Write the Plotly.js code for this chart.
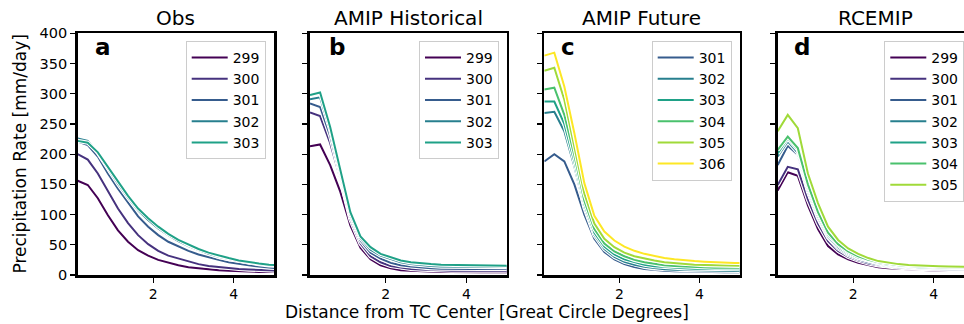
<!DOCTYPE html>
<html><head><meta charset="utf-8">
<script src="https://cdn.plot.ly/plotly-3.0.1.min.js"></script>
<style>html,body{margin:0;padding:0;overflow:hidden;background:#fff}#chart{width:1000px;height:324px}</style>
</head><body><div id="chart"></div>
<script>
// Distance from TC center (great circle degrees)
const distance = [0.125,0.375,0.625,0.875,1.125,1.375,1.625,1.875,2.125,2.375,2.625,2.875,3.125,3.375,3.625,3.875,4.125,4.375,4.625,4.875,5.125];

// SST bins and viridis colours (299..306)
const sstBins = [299,300,301,302,303,304,305,306];
const sstColors = ['#440154','#46327e','#365c8d','#277f8e','#1fa187','#4ac16d','#a0da39','#fde725'];

// Panel titles and letters
const panelTitles = ['Obs','AMIP Historical','AMIP Future','RCEMIP'];
const panelLetters = ['a','b','c','d'];
const yTicks = [0,50,100,150,200,250,300,350,400];
const xTicks = [2,4];

// (a) Obs
const obsSST = [299,300,301,302,303];
const obs299 = [156,149,127,99,74,55,41,32,25,20,16,13,11,9,8,7,6,6,5,5,5];
const obs300 = [200,191,168,138,110,86,66,51,40,32,27,22,18,15,13,11,10,9,8,8,7];
const obs301 = [221,215,196,168,143,119,97,80,66,55,47,40,34,29,25,21,18,16,14,12,11];
const obs302 = [226,222,202,176,151,128,107,91,77,66,56,48,41,35,30,26,23,20,18,16,15];
const obs303 = [222,219,203,179,154,131,110,94,80,68,58,50,43,37,32,28,24,21,19,17,16];

// (b) AMIP Historical
const histSST = [299,300,301,302,303];
const hist299 = [213,216,182,138,82,45,26,16,11,8,7,6,5.5,5,5,4.5,4.5,4.5,4.5,4.5,4.5];
const hist300 = [269,263,218,160,92,52,31,21,15,12,10,9,8,7.5,7,7,7,7,7,7,7];
const hist301 = [284,278,230,166,97,57,37,27,20,16,14,12,11,10.5,10,10,10,10,10,10,10];
const hist302 = [291,294,240,171,100,61,42,32,26,21,18,16,15,14,14,13.5,13.5,13,13,13,13];
const hist303 = [298,302,245,176,104,64,46,35,29,24,21,19,18,17,16.5,16,15.5,15,15,15,15];

// (c) AMIP Future
const futSST = [301,302,303,304,305,306];
const fut301 = [188,200,188,150,100,60,38,26,18,13,10,8,7,6,5.5,5,5,4.5,4.5,4.5,4.5];
const fut302 = [268,270,238,180,112,66,43,30,22,17,13.5,11,9.5,8.5,8,7.5,7,7,6.5,6.5,6.5];
const fut303 = [287,287,250,188,117,70,47,34,26,21,17,14.5,13,12,11,10.5,10,10,9.5,9.5,9.5];
const fut304 = [307,310,265,198,123,76,52,39,31,25,21,18,16,15,14,13,12.5,12,12,12,12];
const fut305 = [338,343,290,215,135,85,60,46,37,31,27,24,21,19.5,18,17,16.5,16,15.5,15,15];
const fut306 = [363,368,312,235,152,98,72,57,47,40,35,31,28,26,24,23,22,21,21,20,20];

// (d) RCEMIP
const rceSST = [299,300,301,302,303,304,305];
const rce299 = [140,170,164,115,76,48,34,26,20,16,13,11,10,9,8.5,8,7.5,7,7,6.5,6.5];
const rce300 = [149,179,175,125,85,56,40,30,24,19,16,13.5,12,11,10,9.5,9,8.5,8,8,8];
const rce301 = [182,214,199,138,94,62,44,33,26,21,17.5,15,13,12,11,10.5,10,9.5,9,9,9];
const rce302 = [196,221,202,142,97,64,46,35,28,23,19,16,14,13,12,11.5,11,10.5,10,10,10];
const rce303 = [201,226,207,146,101,67,49,37,29,24,20,17,15,14,13,12.5,12,11.5,11,11,11];
const rce304 = [207,229,210,150,104,70,51,39,31,25,21,18,16,15,14,13.5,13,12.5,12,12,12];
const rce305 = [238,265,243,168,119,80,58,44,35,28,23,20,18,16.5,15.5,15,14.5,14,14,13.5,13.5];

const panels = [
  {sst: obsSST, series: [obs299,obs300,obs301,obs302,obs303]},
  {sst: histSST, series: [hist299,hist300,hist301,hist302,hist303]},
  {sst: futSST, series: [fut301,fut302,fut303,fut304,fut305,fut306]},
  {sst: rceSST, series: [rce299,rce300,rce301,rce302,rce303,rce304,rce305]}
];

const W = 1000, H = 324;
const xDomPx = [[77.7,274],[310,506.7],[544.3,739.5],[777.7,974]];
const yDom = [(H-275)/H, (H-33.3)/H];
const legendLeftPx = [185.7, 419, 651.7, 884.3];
const letterLeftPx = [93, 327, 559, 792];
const FONT = 'DejaVu Sans, sans-serif';

const traces = [];
const layout = {
  width: W, height: H,
  margin: {l:0, r:0, t:0, b:0},
  paper_bgcolor: '#fff', plot_bgcolor: '#fff',
  font: {family: FONT, color: '#000'},
  showlegend: true,
  annotations: []
};

panels.forEach((p, i) => {
  const n = i + 1;
  const xa = n === 1 ? 'x' : 'x' + n;
  const ya = n === 1 ? 'y' : 'y' + n;
  const lg = n === 1 ? 'legend' : 'legend' + n;
  p.series.forEach((vals, k) => {
    const sst = p.sst[k];
    const col = sstColors[sstBins.indexOf(sst)];
    traces.push({x: distance, y: vals, xaxis: xa, yaxis: ya, mode: 'lines',
      line: {color: '#ffffff', width: 4.2}, showlegend: false, hoverinfo: 'skip'});
    traces.push({x: distance, y: vals, xaxis: xa, yaxis: ya, mode: 'lines',
      name: String(sst), legend: lg, line: {color: col, width: 2}});
  });
  layout[n === 1 ? 'xaxis' : 'xaxis' + n] = {
    domain: [xDomPx[i][0]/W, xDomPx[i][1]/W], anchor: ya,
    range: [0.125, 5], tickvals: xTicks, ticktext: xTicks.map(String),
    ticks: 'outside', ticklen: 5, tickwidth: 1.2, tickcolor: '#000',
    showline: true, linewidth: 2.6, linecolor: '#000', mirror: true,
    showgrid: false, zeroline: false, tickfont: {size: 14, family: FONT, color: '#000'}
  };
  layout[n === 1 ? 'yaxis' : 'yaxis' + n] = {
    domain: yDom, anchor: xa, range: [0, 400], tickvals: yTicks, ticktext: yTicks.map(String),
    showticklabels: n === 1,
    ticks: 'outside', ticklen: 5, tickwidth: 1.2, tickcolor: '#000',
    showline: true, linewidth: 2.6, linecolor: '#000', mirror: true,
    showgrid: false, zeroline: false, tickfont: {size: 14.5, family: FONT, color: '#000'}
  };
  layout[lg] = {
    x: legendLeftPx[i]/W, y: (H-41)/H, xanchor: 'left', yanchor: 'top',
    xref: 'paper', yref: 'paper', itemwidth: 36,
    bgcolor: 'rgba(255,255,255,0.85)', bordercolor: '#cccccc', borderwidth: 1,
    font: {size: 14, family: FONT, color: '#000'}
  };
  layout.annotations.push({
    text: panelTitles[i], xref: 'paper', yref: 'paper',
    x: (xDomPx[i][0] + xDomPx[i][1]) / 2 / W, y: (H-18.3)/H,
    xanchor: 'center', yanchor: 'middle', showarrow: false,
    font: {size: 20, family: FONT, color: '#000'}
  });
  layout.annotations.push({
    text: '<b>' + panelLetters[i] + '</b>', xref: 'paper', yref: 'paper',
    x: letterLeftPx[i]/W, y: (H-47.5)/H,
    xanchor: 'left', yanchor: 'middle', showarrow: false,
    font: {size: 23, family: FONT, color: '#000'}
  });
});

layout.annotations.push({
  text: 'Precipitation Rate [mm/day]', xref: 'paper', yref: 'paper',
  x: 19.5/W, y: (H-154)/H, xanchor: 'center', yanchor: 'middle',
  textangle: -90, showarrow: false, font: {size: 17, family: FONT, color: '#000'}
});
layout.annotations.push({
  text: 'Distance from TC Center [Great Circle Degrees]', xref: 'paper', yref: 'paper',
  x: 486.5/W, y: (H-312)/H, xanchor: 'center', yanchor: 'middle',
  showarrow: false, font: {size: 17, family: FONT, color: '#000'}
});

Plotly.newPlot('chart', traces, layout, {staticPlot: true, displayModeBar: false});
</script>
</body></html>
